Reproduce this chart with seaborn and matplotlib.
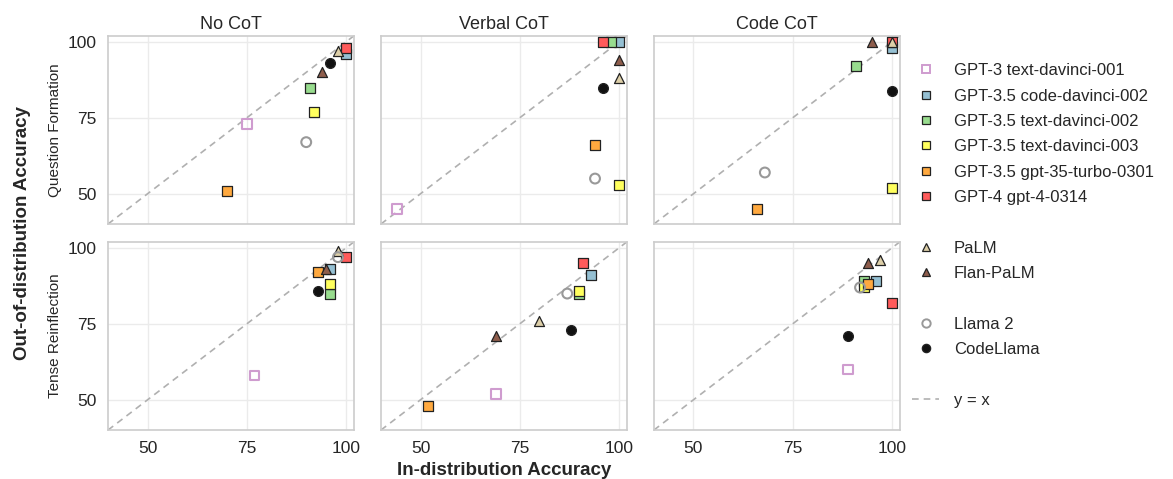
import numpy as np
import pandas as pd
import matplotlib
matplotlib.use("Agg")
import matplotlib.pyplot as plt
from matplotlib.lines import Line2D
import seaborn as sns

# ---------------- data ----------------
tasks = ["Question Formation", "Tense Reinflection"]
settings = ["No CoT", "Verbal CoT", "Code CoT"]
models = ["GPT-3 text-davinci-001", "GPT-3.5 code-davinci-002", "GPT-3.5 text-davinci-002",
          "GPT-3.5 text-davinci-003", "GPT-3.5 gpt-35-turbo-0301", "GPT-4 gpt-4-0314",
          "PaLM", "Flan-PaLM", "Llama 2", "CodeLlama"]

# (in-distribution, out-of-distribution) per model; None = not reported
qf_no_cot = [(75, 73), (100, 96), (91, 85), (92, 77), (70, 51), (100, 98),
             (98, 97), (94, 90), (90, 67), (96, 93)]
qf_verbal = [(44, 45), (100, 100), (98, 100), (100, 53), (94, 66), (96, 100),
             (100, 88), (100, 94), (94, 55), (96, 85)]
qf_code = [None, (100, 98), (91, 92), (100, 52), (66, 45), (100, 100),
           (100, 100), (95, 100), (68, 57), (100, 84)]
tr_no_cot = [(77, 58), (96, 93), (96, 85), (96, 88), (93, 92), (100, 97),
             (98, 99), (95, 93), (98, 97), (93, 86)]
tr_verbal = [(69, 52), (93, 91), (90, 85), (90, 86), (52, 48), (91, 95),
             (80, 76), (69, 71), (87, 85), (88, 73)]
tr_code = [(89, 60), (96, 89), (93, 89), (93, 87), (94, 88), (100, 82),
           (97, 96), (94, 95), (92, 87), (89, 71)]

panel_values = {
    ("Question Formation", "No CoT"): qf_no_cot,
    ("Question Formation", "Verbal CoT"): qf_verbal,
    ("Question Formation", "Code CoT"): qf_code,
    ("Tense Reinflection", "No CoT"): tr_no_cot,
    ("Tense Reinflection", "Verbal CoT"): tr_verbal,
    ("Tense Reinflection", "Code CoT"): tr_code,
}

axis_ticks = [50, 75, 100]

# ---------------- styles ----------------
fills = {"GPT-3 text-davinci-001": "none", "GPT-3.5 code-davinci-002": "#95c0d3",
         "GPT-3.5 text-davinci-002": "#98dc8e", "GPT-3.5 text-davinci-003": "#ffff5e",
         "GPT-3.5 gpt-35-turbo-0301": "#ffa93f", "GPT-4 gpt-4-0314": "#ff5b5b",
         "PaLM": "#ddcfa8", "Flan-PaLM": "#8e5d4c", "Llama 2": "none", "CodeLlama": "#111111"}
edges = {"GPT-3 text-davinci-001": "#cf9ccf", "Llama 2": "#999999"}
markers = {m: "s" for m in models[:6]}
markers.update({"PaLM": "^", "Flan-PaLM": "^", "Llama 2": "o", "CodeLlama": "o"})
sizes = {"s": 48, "^": 52, "o": 50}

rows = []
for (task, setting), vals in panel_values.items():
    for m, v in zip(models, vals):
        if v is not None:
            rows.append({"task": task, "setting": setting, "model": m, "id": v[0], "ood": v[1]})
df = pd.DataFrame(rows)

sns.set_theme(style="whitegrid")
plt.rcParams["font.family"] = ["Liberation Sans", "DejaVu Sans"]
plt.rcParams["axes.edgecolor"] = "#cccccc"
plt.rcParams["grid.color"] = "#ebebeb"

fig, axes = plt.subplots(2, 3, figsize=(11.73, 4.79), dpi=100, sharex=True, sharey=True)
fig.subplots_adjust(left=0.092, right=0.767, top=0.925, bottom=0.102, wspace=0.11, hspace=0.095)

lo, hi = 40, 102
for r, task in enumerate(tasks):
    for c, setting in enumerate(settings):
        ax = axes[r, c]
        ax.plot([lo, hi], [lo, hi], ls=(0, (4, 3)), color="#b0b0b0", lw=1.2, zorder=1)
        sub = df[(df.task == task) & (df.setting == setting)]
        for m in models:
            d = sub[sub.model == m]
            if d.empty:
                continue
            mk = markers[m]
            hollow = fills[m] == "none"
            sns.scatterplot(data=d, x="id", y="ood", ax=ax, marker=mk, s=sizes[mk],
                            color=edges.get(m, "#222222") if hollow else fills[m],
                            edgecolor=edges.get(m, "#222222"),
                            linewidth=1.5 if hollow else 0.9, zorder=3, legend=False)
            if hollow:
                ax.collections[-1].set_facecolor("none")
        ax.set_xlim(lo, hi)
        ax.set_ylim(lo, hi)
        ax.set_xticks(axis_ticks)
        ax.set_yticks(axis_ticks)
        ax.tick_params(labelsize=12.5, pad=2)
        ax.set_xlabel("")
        ax.set_ylabel(task if c == 0 else "", fontsize=11, labelpad=4)
        for sp in ax.spines.values():
            sp.set_color("#cccccc")
            sp.set_linewidth(1.2)
        if r == 0:
            ax.set_title(setting, fontsize=13, pad=5)

fig.supylabel("Out-of-distribution Accuracy", fontsize=13.5, fontweight="bold", x=0.012, y=0.514)
fig.supxlabel("In-distribution Accuracy", fontsize=13.5, fontweight="bold", x=0.43, y=0.0)

# legend
handles, labels = [], []
blank = Line2D([], [], linestyle="none", marker=None)
groups = [models[:6], models[6:8], models[8:10]]
for gi, g in enumerate(groups):
    for m in g:
        mk = markers[m]
        hollow = fills[m] == "none"
        handles.append(Line2D([], [], linestyle="none", marker=mk, markersize=6,
                              markerfacecolor="none" if hollow else fills[m],
                              markeredgecolor=edges.get(m, "#222222"),
                              markeredgewidth=1.4 if hollow else 0.9))
        labels.append(m)
    handles.append(blank)
    labels.append("")
handles.append(Line2D([], [], ls=(0, (4, 3)), color="#b0b0b0", lw=1.2))
labels.append("y = x")
fig.legend(handles, labels, loc="upper left", bbox_to_anchor=(0.772, 0.882), frameon=False,
           fontsize=12, handlelength=1.6, handletextpad=0.9, labelspacing=0.62, borderaxespad=0)

fig.savefig("out.png", dpi=100)
